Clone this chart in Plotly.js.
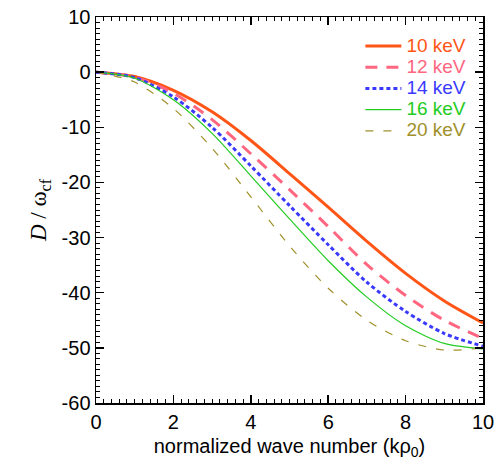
<!DOCTYPE html>
<html>
<head>
<meta charset="utf-8">
<script src="https://cdn.plot.ly/plotly-3.0.1.min.js"></script>
<style>html,body{margin:0;padding:0;background:#fff;}#chart{width:503px;height:466px;}</style>
</head>
<body>
<div id="chart"></div>
<script>
// normalized wave number k*rho0
const k = [0, 1, 2, 3, 4, 5, 6, 7, 8, 9, 10];
// D / omega_cf for each energy
const d10keV = [0, -0.8, -3.3, -7.2, -12.4, -18.4, -24.5, -30.7, -36.5, -41.5, -45.5];
const d12keV = [0, -0.9, -3.8, -8.6, -14.8, -21.3, -28.0, -34.9, -40.5, -45.0, -48.3];
const d14keV = [0, -1.0, -4.5, -10.0, -17.0, -24.2, -31.3, -38.1, -43.4, -47.4, -49.7];
const d16keV = [0, -1.1, -5.0, -11.1, -18.8, -26.6, -34.2, -40.8, -46.0, -49.2, -50.2];
const d20keV = [0, -1.8, -6.6, -13.8, -22.6, -31.5, -39.2, -45.0, -48.7, -50.4, -50.0];
const seriesNames = ['10 keV', '12 keV', '14 keV', '16 keV', '20 keV'];
const yTickVals = [10, 0, -10, -20, -30, -40, -50, -60];
const yTickText = ['10', '0', '-10', '-20', '-30', '-40', '-50', '-60'];

const colors = ['#ff5516', '#ff6680', '#3a3aff', '#22cc22', '#a0902a'];
const widths = [3, 3, 3, 1.2, 1.2];
const dashes = ['solid', '12px,9px', '4px,3px', 'solid', '8px,10px'];
const ys = [d10keV, d12keV, d14keV, d16keV, d20keV];

const traces = ys.map((y, i) => ({
  x: k, y: y, type: 'scatter', mode: 'lines',
  name: '<span style="color:' + colors[i] + ';font-size:19px">' + seriesNames[i] + '</span>',
  line: {color: colors[i], width: widths[i], dash: dashes[i], shape: 'spline', smoothing: 0.8}
}));

const axisCommon = {
  showgrid: false, zeroline: false, showline: true, mirror: 'allticks',
  linecolor: '#000', linewidth: 1.5, ticks: 'inside', ticklen: 8, tickwidth: 1.5,
  tickcolor: '#000', tickfont: {family: 'Liberation Sans, Arial, sans-serif', size: 20, color: '#000'}
};

const layout = {
  width: 503, height: 466,
  margin: {l: 96, r: 20, t: 17, b: 63},
  paper_bgcolor: '#fff', plot_bgcolor: '#fff',
  showlegend: true,
  legend: {x: 0.97, xanchor: 'right', y: 0.965, yanchor: 'top', bgcolor: 'rgba(0,0,0,0)',
    font: {family: 'Liberation Sans, Arial, sans-serif', size: 14}, tracegroupgap: 0, itemwidth: 36},
  xaxis: Object.assign({}, axisCommon, {
    range: [0, 10], dtick: 2, tick0: 0,
    minor: {dtick: 0.2, ticklen: 4, tickwidth: 1, tickcolor: '#000', ticks: 'inside'},
    title: {text: 'normalized wave number (kρ<sub>0</sub>)', standoff: 7,
      font: {family: 'Liberation Sans, Arial, sans-serif', size: 20, color: '#000'}}
  }),
  yaxis: Object.assign({}, axisCommon, {
    range: [-60, 10], tickmode: 'array', tickvals: yTickVals, ticktext: yTickText,
    minor: {dtick: 1, ticklen: 4, tickwidth: 1, tickcolor: '#000', ticks: 'inside'},
    title: {text: '<i>D</i> / ω<sub>cf</sub>', standoff: 8,
      font: {family: 'Liberation Serif, Times New Roman, serif', size: 23, color: '#000'}}
  })
};

Plotly.newPlot('chart', traces, layout, {displayModeBar: false, staticPlot: true});
</script>
</body>
</html>
